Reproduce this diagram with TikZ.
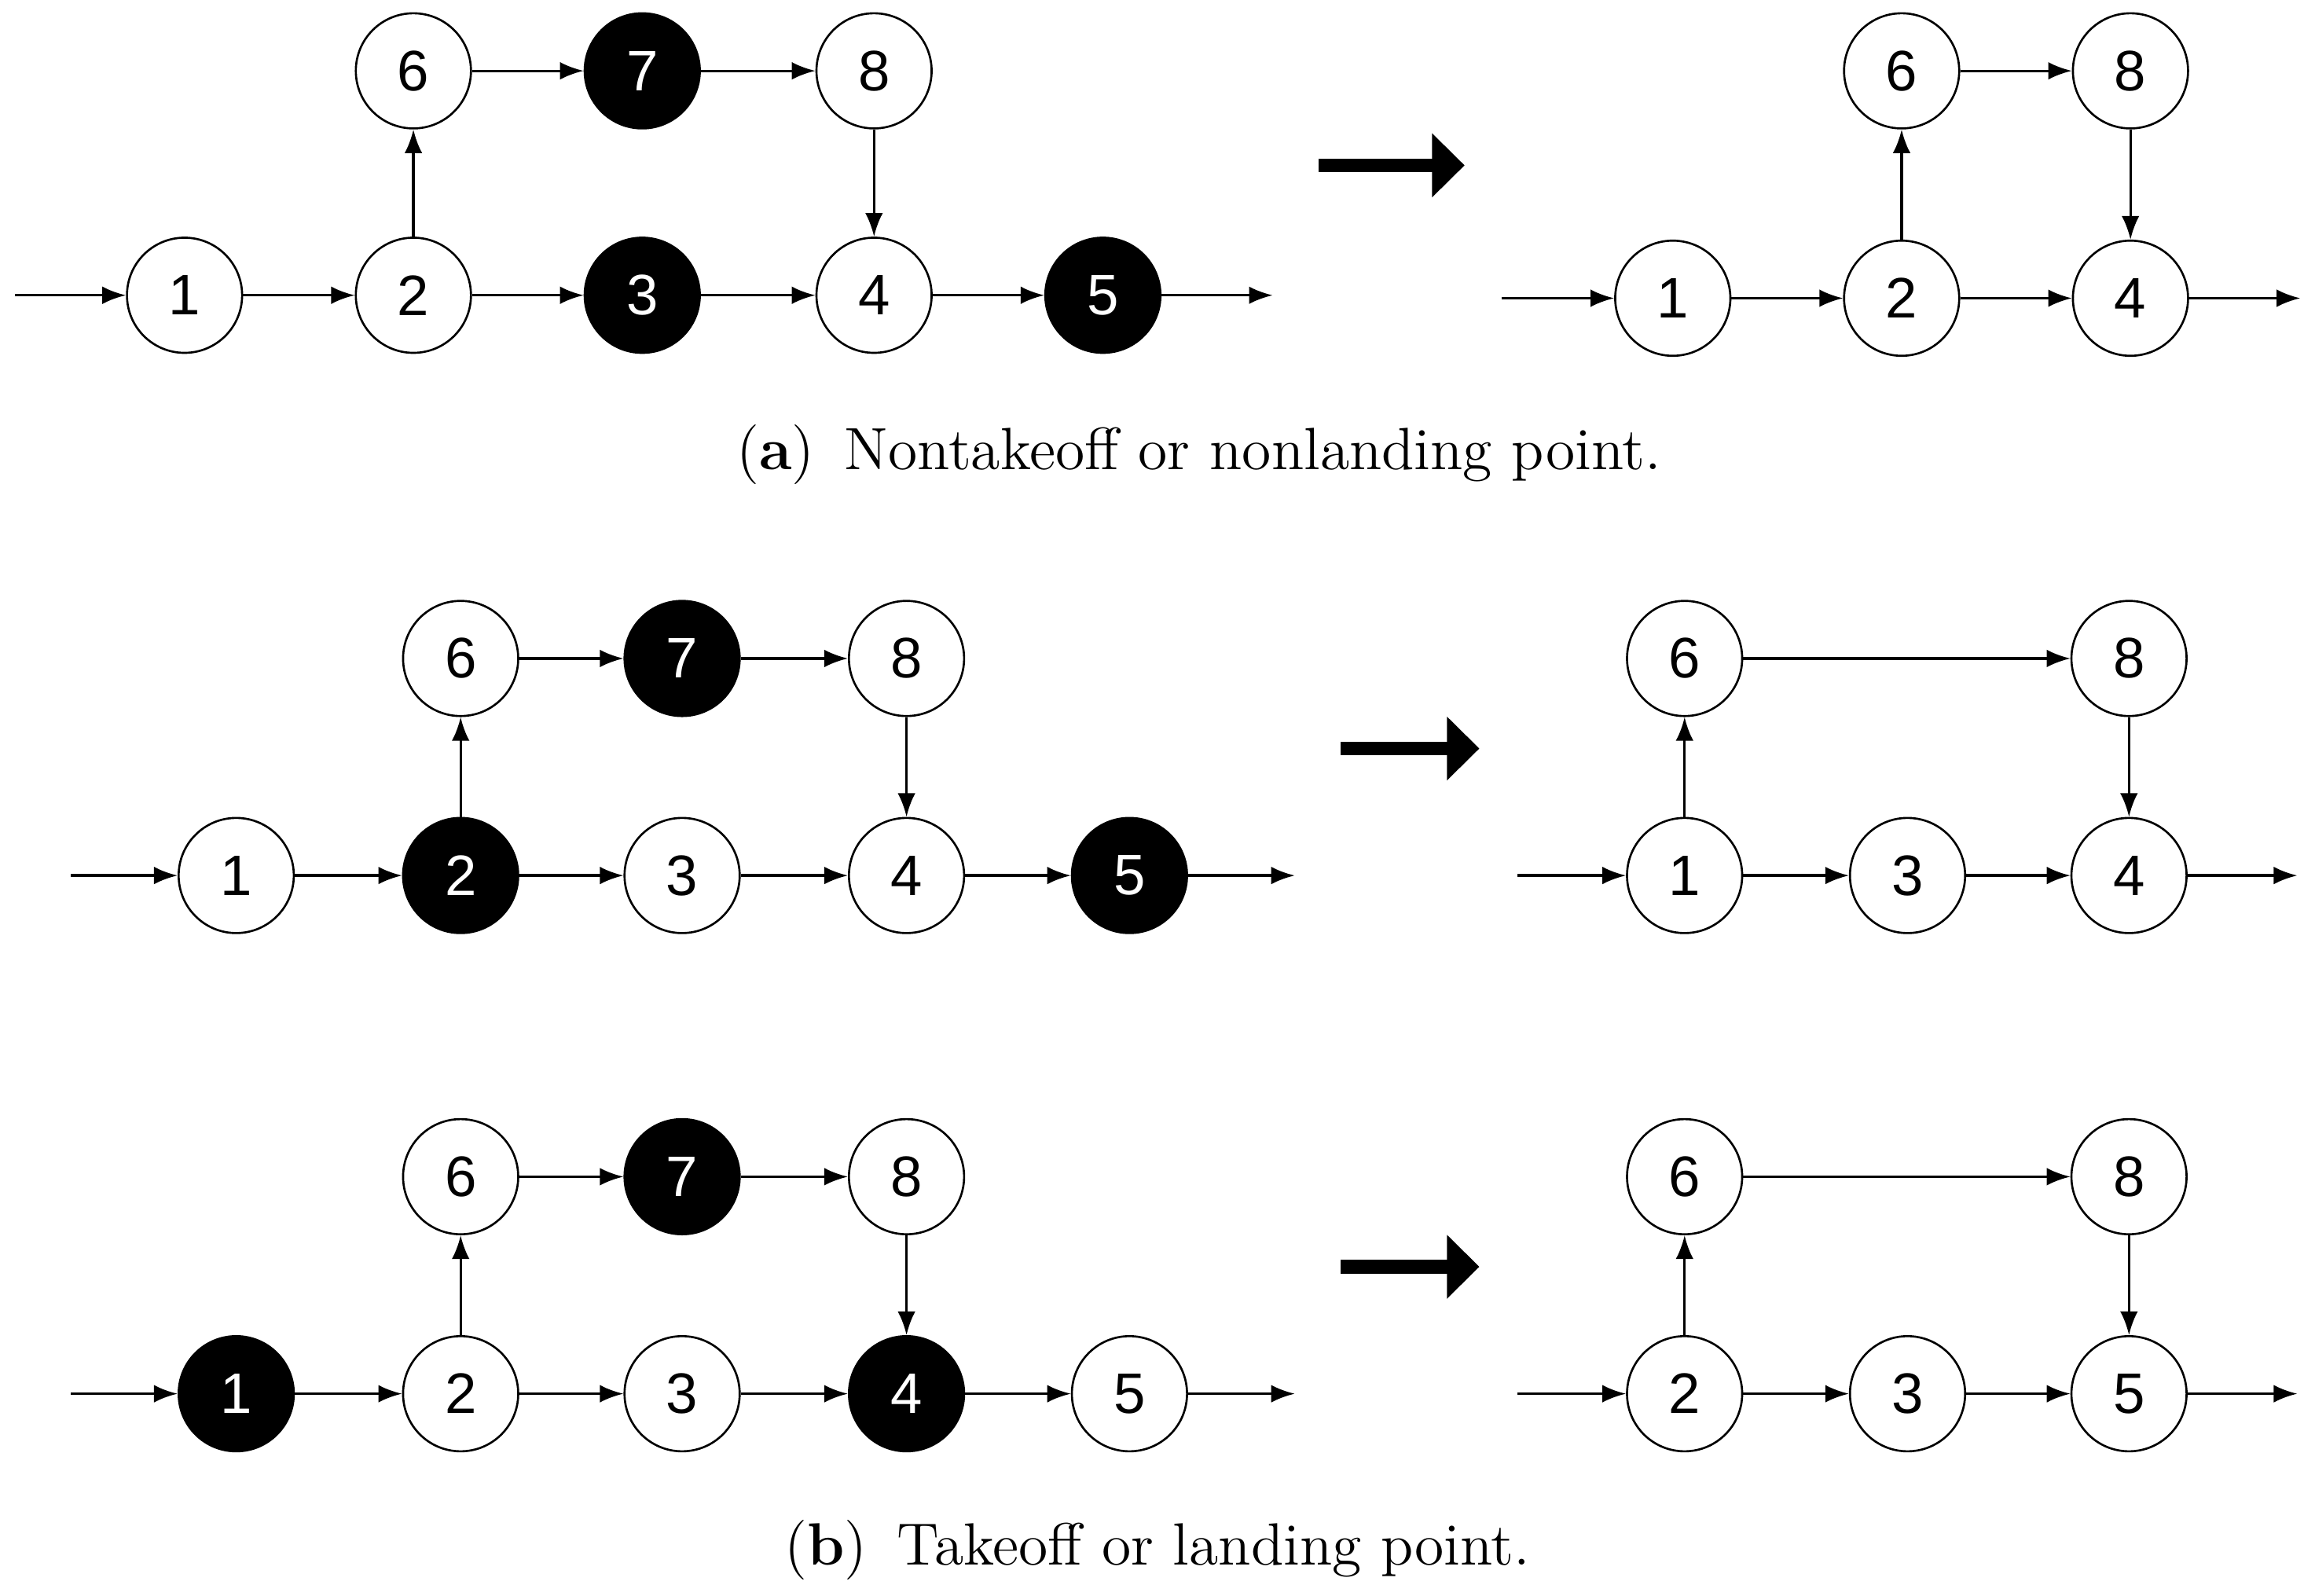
\documentclass[tikz,border=0pt]{standalone}
\usepackage{fontspec}
\newfontfamily\nodefont{Liberation Sans}
\usetikzlibrary{arrows.meta}
\tikzset{
  pt/.style={draw, circle, minimum size=0.78cm, inner sep=0pt, font=\nodefont\fontsize{11}{11}\selectfont},
  del/.style={pt, fill=black, text=white},
  link/.style={-{Latex[length=1.6mm,width=1.2mm]}, line width=0.5pt},
  big/.style={-{Triangle[length=2.2mm,width=4.2mm]}, line width=2.6pt},
  captxt/.style={font=\fontsize{11.5}{12}\selectfont}
}
\begin{document}
\begin{tikzpicture}
\useasboundingbox (0,0) rectangle (15.68,-10.81);

% (a) left graph
\foreach \n/\x/\y/\s in {1/1.25/2.00/pt, 2/2.80/2.00/pt, 3/4.35/2.00/del, 4/5.92/2.00/pt, 5/7.47/2.00/del,
                         6/2.80/0.48/pt, 7/4.35/0.48/del, 8/5.92/0.48/pt}
  \node[\s] (a\n) at (\x,-\y) {\n};
\coordinate (ain) at (0.10,-2.00);
\coordinate (aout) at (8.62,-2.00);
\foreach \p/\q in {ain/a1, a1/a2, a2/a3, a3/a4, a4/a5, a5/aout, a2/a6, a6/a7, a7/a8, a8/a4}
  \draw[link] (\p) -- (\q);

% (a) right graph
\foreach \n/\x/\y in {1/11.33/2.02, 2/12.88/2.02, 4/14.43/2.02, 6/12.88/0.48, 8/14.43/0.48}
  \node[pt] (ra\n) at (\x,-\y) {\n};
\coordinate (rain) at (10.17,-2.02);
\coordinate (raout) at (15.58,-2.02);
\foreach \p/\q in {rain/ra1, ra1/ra2, ra2/ra4, ra4/raout, ra2/ra6, ra6/ra8, ra8/ra4}
  \draw[link] (\p) -- (\q);

\coordinate (abs) at (8.93,-1.12);
\coordinate (abe) at (9.92,-1.12);
\draw[big] (abs) -- (abe);
\node[captxt] (capa) at (8.12,-3.08) {(\textbf{a})\enspace Nontakeoff or nonlanding point.};

% (b) upper pair
\foreach \n/\x/\y/\s in {1/1.60/5.93/pt, 2/3.12/5.93/del, 3/4.62/5.93/pt, 4/6.14/5.93/pt, 5/7.65/5.93/del,
                         6/3.12/4.46/pt, 7/4.62/4.46/del, 8/6.14/4.46/pt}
  \node[\s] (b\n) at (\x,-\y) {\n};
\coordinate (bin) at (0.48,-5.93);
\coordinate (bout) at (8.77,-5.93);
\foreach \p/\q in {bin/b1, b1/b2, b2/b3, b3/b4, b4/b5, b5/bout, b2/b6, b6/b7, b7/b8, b8/b4}
  \draw[link] (\p) -- (\q);

\foreach \n/\x/\y in {1/11.41/5.93, 3/12.92/5.93, 4/14.42/5.93, 6/11.41/4.46, 8/14.42/4.46}
  \node[pt] (rb\n) at (\x,-\y) {\n};
\coordinate (rbin) at (10.28,-5.93);
\coordinate (rbout) at (15.56,-5.93);
\foreach \p/\q in {rbin/rb1, rb1/rb3, rb3/rb4, rb4/rbout, rb1/rb6, rb6/rb8, rb8/rb4}
  \draw[link] (\p) -- (\q);

\coordinate (bbs) at (9.08,-5.07);
\coordinate (bbe) at (10.02,-5.07);
\draw[big] (bbs) -- (bbe);

% (b) lower pair
\foreach \n/\x/\y/\s in {1/1.60/9.44/del, 2/3.12/9.44/pt, 3/4.62/9.44/pt, 4/6.14/9.44/del, 5/7.65/9.44/pt,
                         6/3.12/7.97/pt, 7/4.62/7.97/del, 8/6.14/7.97/pt}
  \node[\s] (c\n) at (\x,-\y) {\n};
\coordinate (cin) at (0.48,-9.44);
\coordinate (cout) at (8.77,-9.44);
\foreach \p/\q in {cin/c1, c1/c2, c2/c3, c3/c4, c4/c5, c5/cout, c2/c6, c6/c7, c7/c8, c8/c4}
  \draw[link] (\p) -- (\q);

\foreach \n/\x/\y in {2/11.41/9.44, 3/12.92/9.44, 5/14.42/9.44, 6/11.41/7.97, 8/14.42/7.97}
  \node[pt] (rc\n) at (\x,-\y) {\n};
\coordinate (rcin) at (10.28,-9.44);
\coordinate (rcout) at (15.56,-9.44);
\foreach \p/\q in {rcin/rc2, rc2/rc3, rc3/rc5, rc5/rcout, rc2/rc6, rc6/rc8, rc8/rc5}
  \draw[link] (\p) -- (\q);

\coordinate (cbs) at (9.08,-8.58);
\coordinate (cbe) at (10.02,-8.58);
\draw[big] (cbs) -- (cbe);
\node[captxt] (capb) at (7.84,-10.50) {(\textbf{b})\enspace Takeoff or landing point.};
\end{tikzpicture}
\end{document}
